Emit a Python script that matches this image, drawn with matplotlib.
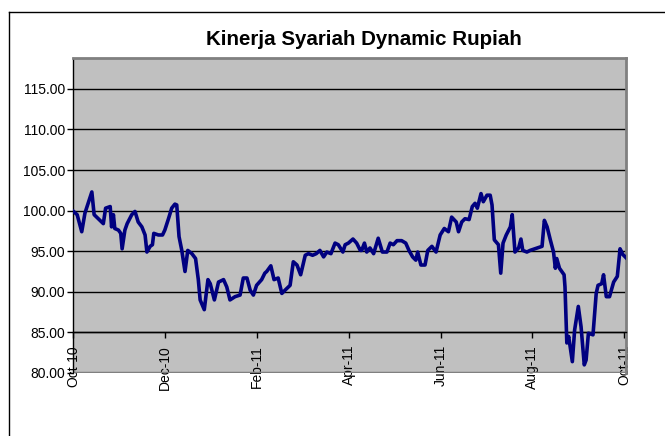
import matplotlib
matplotlib.use('Agg')
import matplotlib.pyplot as plt
from matplotlib.lines import Line2D

plt.rcParams['font.family'] = ['Liberation Sans', 'DejaVu Sans']

# posisi waktu (bulan sejak Okt-10) dan nilai kinerja
bulan = [0.00, 0.08, 0.18, 0.25, 0.32, 0.40, 0.45, 0.54, 0.65, 0.70,
         0.80, 0.83, 0.87, 0.90, 0.98, 1.03, 1.06, 1.12, 1.17, 1.27,
         1.34, 1.41, 1.49, 1.56, 1.60, 1.67, 1.72, 1.75, 1.85, 1.94,
         1.99, 2.07, 2.14, 2.21, 2.25, 2.30, 2.36, 2.43, 2.49, 2.58,
         2.66, 2.72, 2.76, 2.85, 2.93, 2.98, 3.07, 3.16, 3.27, 3.34,
         3.41, 3.52, 3.63, 3.70, 3.78, 3.85, 3.92, 3.99, 4.10, 4.17,
         4.21, 4.30, 4.37, 4.46, 4.54, 4.61, 4.72, 4.79, 4.87, 4.95,
         5.05, 5.12, 5.21, 5.29, 5.37, 5.45, 5.52, 5.61, 5.70, 5.77,
         5.87, 5.92, 5.99, 6.09, 6.17, 6.25, 6.28, 6.34, 6.39, 6.46,
         6.54, 6.64, 6.73, 6.83, 6.90, 6.97, 7.05, 7.15, 7.24, 7.31,
         7.39, 7.46, 7.50, 7.57, 7.66, 7.72, 7.81, 7.90, 7.99, 8.08,
         8.17, 8.24, 8.34, 8.39, 8.46, 8.53, 8.62, 8.69, 8.75, 8.80,
         8.88, 8.93, 9.01, 9.08, 9.12, 9.17, 9.26, 9.31, 9.36, 9.43,
         9.52, 9.56, 9.62, 9.70, 9.75, 9.79, 9.88, 9.95, 10.21, 10.26,
         10.32, 10.39, 10.46, 10.50, 10.53, 10.59, 10.64, 10.69, 10.71, 10.75,
         10.79, 10.87, 10.92, 11.00, 11.06, 11.13, 11.17, 11.22, 11.32, 11.39,
         11.43, 11.51, 11.55, 11.61, 11.68, 11.77, 11.85, 11.91, 11.97, 12.04]
nilai = [99.9, 99.5, 97.4, 99.7, 100.9, 102.3, 99.5, 99.0, 98.4, 100.3,
         100.5, 98.0, 99.5, 97.8, 97.6, 97.2, 95.3, 97.6, 98.4, 99.5,
         99.9, 98.6, 98.0, 97.0, 94.9, 95.6, 95.8, 97.2, 97.0, 97.0,
         97.6, 99.0, 100.3, 100.8, 100.7, 96.8, 95.1, 92.5, 95.1, 94.7,
         94.1, 91.5, 89.0, 87.8, 91.5, 91.0, 89.0, 91.2, 91.5, 90.6,
         89.0, 89.4, 89.6, 91.7, 91.7, 90.2, 89.6, 90.8, 91.5, 92.3,
         92.5, 93.2, 91.5, 91.7, 89.8, 90.2, 90.8, 93.7, 93.3, 92.1,
         94.5, 94.7, 94.5, 94.7, 95.1, 94.3, 94.9, 94.7, 96.0, 95.8,
         94.9, 95.8, 96.0, 96.5, 96.0, 95.1, 95.1, 96.0, 94.9, 95.4,
         94.7, 96.6, 94.9, 94.9, 96.0, 95.8, 96.3, 96.3, 96.0, 95.1,
         94.3, 93.9, 94.9, 93.3, 93.3, 95.1, 95.6, 94.9, 97.0, 97.8,
         97.4, 99.2, 98.6, 97.4, 98.6, 99.0, 98.9, 100.5, 100.9, 100.3,
         102.1, 101.1, 101.9, 101.9, 100.7, 96.4, 95.8, 92.3, 96.0, 97.0,
         98.0, 99.5, 94.9, 95.4, 96.5, 95.1, 94.9, 95.1, 95.6, 98.8,
         98.0, 96.4, 94.9, 92.9, 94.1, 92.9, 92.5, 92.1, 90.6, 83.7,
         84.5, 81.4, 85.3, 88.2, 85.7, 81.0, 81.6, 84.9, 84.7, 89.8,
         90.8, 91.0, 92.1, 89.4, 89.4, 91.2, 91.9, 95.3, 94.6, 94.2]

posisi_label = [0, 2, 4, 6, 8, 10, 12]
label_x = ['Oct-10', 'Dec-10', 'Feb-11', 'Apr-11', 'Jun-11', 'Aug-11', 'Oct-11']
nilai_y = [80, 85, 90, 95, 100, 105, 110, 115]

fig = plt.figure(figsize=(6.65, 4.36), dpi=100)
ax = fig.add_axes([0.1105, 0.1445, 0.8309, 0.7225])

# bingkai luar chart (hanya sisi atas dan kiri yang tampak)
x0, y0 = 8.5 / 665, 1 - 12.5 / 436
fig.add_artist(Line2D([x0, 1.0], [y0, y0], transform=fig.transFigure,
                      color='black', linewidth=1))
fig.add_artist(Line2D([x0, x0], [0.0, y0], transform=fig.transFigure,
                      color='black', linewidth=1))

ax.set_facecolor('#C0C0C0')

# posisi sumbu x dulu (mengatur ulang tick), baru label
ax.spines['bottom'].set_position(('data', 85))
ax.spines['bottom'].set_color('black')
ax.spines['bottom'].set_linewidth(1)
ax.spines['left'].set_color('black')
ax.spines['left'].set_linewidth(1)
ax.spines['top'].set_color('#808080')
ax.spines['top'].set_linewidth(2)
ax.spines['right'].set_color('#808080')
ax.spines['right'].set_linewidth(2)

ax.plot(bulan, nilai, color='#000080', linewidth=2.6, zorder=3)

ax.set_xlim(0, 12.04)
ax.set_ylim(80, 118.8)
ax.set_yticks(nilai_y)
ax.set_yticklabels(['%.2f' % v for v in nilai_y])
ax.set_xticks(posisi_label)
ax.set_xticklabels(label_x)

for v in nilai_y[1:]:
    ax.axhline(v, color='black', linewidth=1, zorder=1)
ax.axhline(80, color='#808080', linewidth=2.5, zorder=2)

ax.tick_params(axis='y', direction='out', length=4, width=1, pad=2,
               labelsize=10)
ax.tick_params(axis='x', direction='out', length=4, width=1, pad=5,
               labelsize=10, labelrotation=90)

fig.text(0.547, 0.91, 'Kinerja Syariah Dynamic Rupiah', ha='center',
         va='center', fontsize=14.8, fontweight='bold')

fig.savefig('out.png', dpi=100)
